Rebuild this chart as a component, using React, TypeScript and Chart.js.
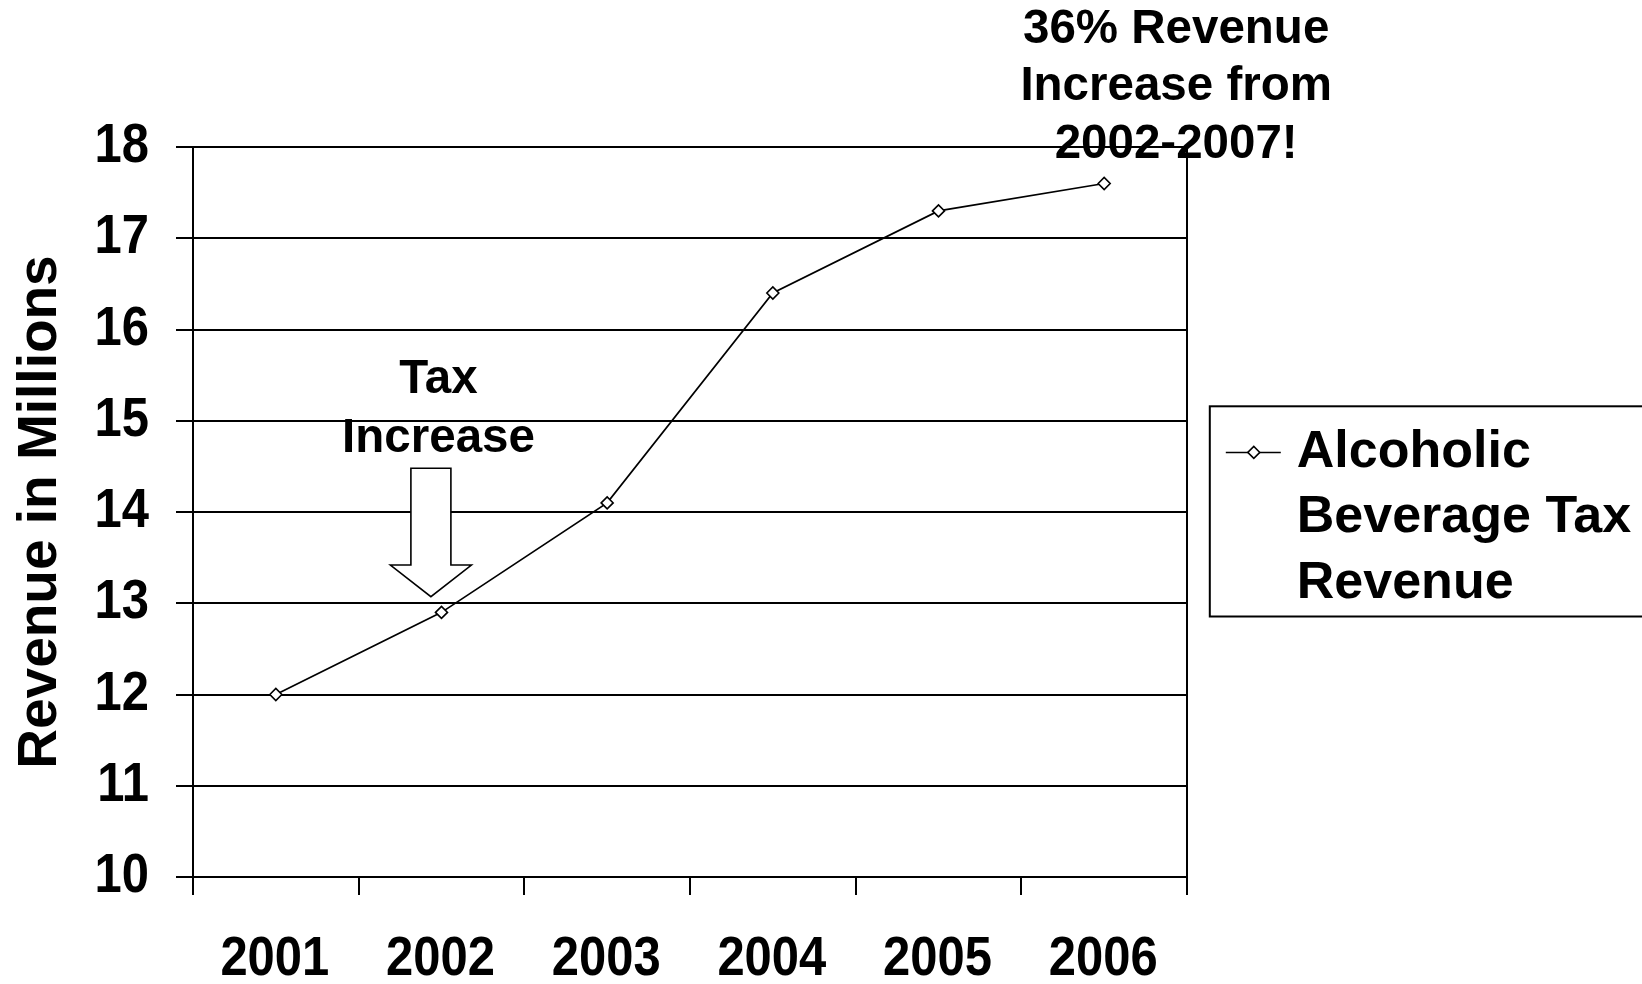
import React, { useEffect, useRef } from 'react';
import { Chart, registerables } from 'chart.js';

Chart.register(...registerables);

// ---- data ----
const years = ['2001', '2002', '2003', '2004', '2005', '2006'];
const revenue = [12.0, 12.9, 14.1, 16.4, 17.3, 17.6];
const seriesLabelLines = ['Alcoholic', 'Beverage Tax', 'Revenue'];
const yAxisTitle = 'Revenue in Millions';
const yMin = 10;
const yMax = 18;
const yStep = 1;
const taxNote = ['Tax', 'Increase'];
const growthNote = ['36% Revenue', 'Increase from', '2002-2007!'];
// annotation anchors in data units
const taxNoteCategory = 1;
const taxNoteValue = 15.447;
const arrowTopValue = 14.479;
const arrowBaseValue = 13.419;
const arrowTipValue = 13.072;
const growthCategory = 5;

const FONT = '"Liberation Sans", Arial, Helvetica, sans-serif';
const SQUEEZE = 0.89;

const overlayPlugin = {
  id: 'overlay',
  afterDraw(chart: any) {
    const { ctx, chartArea: ca, scales } = chart;
    const xs = scales.x;
    const ys = scales.y;
    ctx.save();
    ctx.fillStyle = '#000';
    ctx.strokeStyle = '#000';

    // y tick labels (slightly condensed, as in the original)
    ctx.font = `bold 55px ${FONT}`;
    ctx.textBaseline = 'middle';
    ctx.textAlign = 'right';
    ys.ticks.forEach((t: any, i: number) => {
      const py = ys.getPixelForTick(i);
      ctx.save();
      ctx.translate(ca.left - 44, py);
      ctx.scale(SQUEEZE, 1);
      ctx.fillText(String(t.label), 0, 0);
      ctx.restore();
    });

    // x tick labels
    ctx.textAlign = 'center';
    years.forEach((lab, i) => {
      const px = xs.getPixelForTick(i);
      ctx.save();
      ctx.translate(px - 1, ca.bottom + 83);
      ctx.scale(SQUEEZE, 1);
      ctx.fillText(lab, 0, 0);
      ctx.restore();
    });

    // "Tax Increase" note
    ctx.font = `bold 47.5px ${FONT}`;
    ctx.textAlign = 'center';
    const tx = xs.getPixelForValue(taxNoteCategory) - 3;
    const ty = ys.getPixelForValue(taxNoteValue);
    taxNote.forEach((s, i) => ctx.fillText(s, tx, ty + i * 59));

    // block arrow
    const ax = xs.getPixelForValue(taxNoteCategory) - 10.6;
    const yTop = ys.getPixelForValue(arrowTopValue);
    const yBase = ys.getPixelForValue(arrowBaseValue);
    const yTip = ys.getPixelForValue(arrowTipValue);
    ctx.beginPath();
    ctx.moveTo(ax - 20, yTop);
    ctx.lineTo(ax + 20, yTop);
    ctx.lineTo(ax + 20, yBase);
    ctx.lineTo(ax + 40.5, yBase);
    ctx.lineTo(ax, yTip);
    ctx.lineTo(ax - 40.5, yBase);
    ctx.lineTo(ax - 20, yBase);
    ctx.closePath();
    ctx.fillStyle = '#fff';
    ctx.fill();
    ctx.lineWidth = 1.6;
    ctx.stroke();
    ctx.fillStyle = '#000';

    // growth note at top
    const gx = xs.getPixelForValue(growthCategory) + 72;
    growthNote.forEach((s, i) => ctx.fillText(s, gx, ca.top - 117.5 + i * 57.5));

    // legend
    const ds = chart.data.datasets[0];
    const lx = ca.right + 22.8;
    const cy = (ca.top + ca.bottom) / 2;
    ctx.lineWidth = 2;
    ctx.strokeStyle = '#000';
    ctx.strokeRect(lx, cy - 105.7, 1000, 210.2);
    const ly = cy - 59.6;
    ctx.lineWidth = 1.5;
    ctx.beginPath();
    ctx.moveTo(lx + 16, ly);
    ctx.lineTo(lx + 71, ly);
    ctx.strokeStyle = ds.borderColor;
    ctx.stroke();
    const dx = lx + 44;
    const r = 6;
    ctx.beginPath();
    ctx.moveTo(dx - r, ly);
    ctx.lineTo(dx, ly - r);
    ctx.lineTo(dx + r, ly);
    ctx.lineTo(dx, ly + r);
    ctx.closePath();
    ctx.fillStyle = ds.pointBackgroundColor;
    ctx.fill();
    ctx.strokeStyle = ds.pointBorderColor;
    ctx.stroke();
    ctx.fillStyle = '#000';
    ctx.font = `bold 52px ${FONT}`;
    ctx.textAlign = 'left';
    ctx.textBaseline = 'middle';
    seriesLabelLines.forEach((s, i) => ctx.fillText(s, lx + 87, ly + i * 65.5));

    ctx.restore();
  },
};

export default function App() {
  const canvasRef = useRef<HTMLCanvasElement | null>(null);

  useEffect(() => {
    const canvas = canvasRef.current;
    if (!canvas) return;
    const chart = new Chart(canvas, {
      type: 'line',
      data: {
        labels: years,
        datasets: [
          {
            label: seriesLabelLines.join(' '),
            data: revenue,
            borderColor: '#000',
            borderWidth: 1.7,
            pointStyle: 'rectRot',
            pointRadius: 6,
            pointHoverRadius: 6,
            pointBackgroundColor: '#fff',
            pointBorderColor: '#000',
            pointBorderWidth: 1.6,
            tension: 0,
            fill: false,
            clip: false as any,
          },
        ],
      },
      options: {
        responsive: false,
        animation: false,
        devicePixelRatio: 1,
        layout: { padding: { top: 147, right: 455, bottom: 0, left: 0 } },
        plugins: {
          legend: { display: false },
          tooltip: { enabled: false },
        },
        scales: {
          x: {
            type: 'category',
            offset: true,
            grid: {
              offset: true,
              display: true,
              drawOnChartArea: true,
              drawTicks: true,
              tickLength: 18,
              color: (c: any) => (c.type === 'scale' ? '#000' : 'rgba(0,0,0,0)'),
              tickColor: '#000',
              lineWidth: 2,
              tickWidth: 2,
            },
            border: { display: true, color: '#000', width: 2 },
            ticks: { display: false },
            afterFit: (s: any) => {
              s.height = 107;
            },
          },
          y: {
            min: yMin,
            max: yMax,
            ticks: { stepSize: yStep, display: false },
            grid: {
              display: true,
              drawOnChartArea: true,
              drawTicks: true,
              tickLength: 17,
              color: '#000',
              tickColor: '#000',
              lineWidth: 2,
              tickWidth: 2,
            },
            border: { display: true, color: '#000', width: 2 },
            title: {
              display: true,
              text: yAxisTitle,
              color: '#000',
              font: { family: FONT, size: 55, weight: 'bold', lineHeight: 1.2 },
              padding: { top: 8, bottom: 0 },
            },
            afterFit: (s: any) => {
              s.width = 193;
            },
          },
        },
      },
      plugins: [overlayPlugin],
    });
    return () => chart.destroy();
  }, []);

  return (
    <div
      style={{
        position: 'fixed',
        left: 0,
        top: 0,
        width: 1642,
        height: 984,
        background: '#fff',
      }}
    >
      <canvas ref={canvasRef} width={1642} height={984} style={{ display: 'block' }} />
    </div>
  );
}
